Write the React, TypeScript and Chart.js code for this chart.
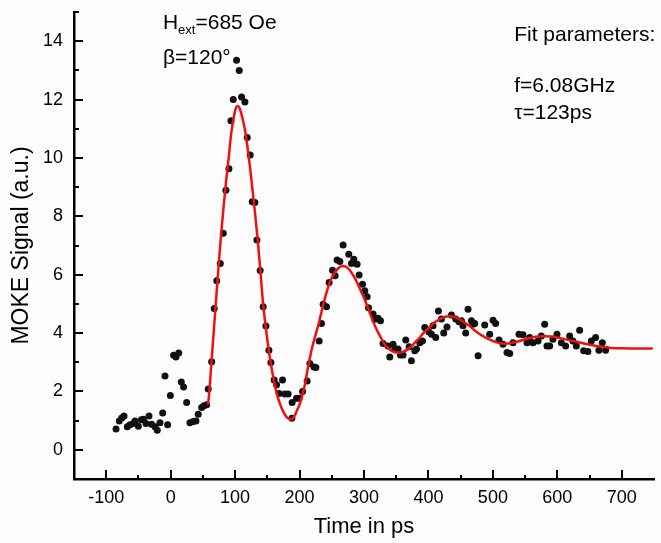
import { useEffect, useRef } from "react";
import { Chart, registerables } from "chart.js";

Chart.register(...registerables);

// Measured MOKE signal (time in ps, signal in a.u.)
const timePs = [
  -84.8, -79.7, -76, -72.4, -67.3, -63.1, -58, -55.3, -50.2, -45.4, -42.5, -38.3, -33.6, -29.5, -24.3, -20.8,
  -16.6, -12.4, -8.8, -4.7, -0.5, 4.5, 8.2, 12.5, 16.5, 20, 24.8, 29.9, 35, 39.2, 42.8, 48.1, 51.6, 55.8, 58.3,
  63.6, 67.6, 71.5, 77, 81.6, 85.7, 90.4, 93.5, 97.1, 102.3, 106.4, 110, 115.2, 118.8, 123.4, 126.5, 130.7,
  133.8, 138.9, 143.6, 147.8, 152.4, 155.5, 160.6, 164.3, 168.4, 173.6, 177.2, 182.3, 188.5, 188, 195.3, 199.4,
  204.7, 211.8, 216, 222.2, 225.3, 230.4, 234.1, 236.6, 241.9, 245.9, 251.2, 255.2, 258.3, 262.5, 267.6, 276.4,
  280.6, 284.2, 289.3, 292.4, 297.7, 301.2, 304.8, 307, 314.1, 316.7, 321.9, 325.6, 329.6, 337.4, 340, 345.1,
  347.8, 352.9, 356.6, 360.6, 364.8, 370, 373.6, 378.8, 381.4, 386.5, 390.7, 394.3, 400.9, 404.7, 407.1, 411.3,
  415.5, 420.2, 423.7, 428.8, 435.7, 442.3, 447.4, 451.2, 453.6, 457.8, 461.4, 466.7, 469.1, 471.8, 477, 487.3,
  495, 500.2, 504.3, 509.5, 515.7, 521.9, 526.1, 531.2, 540.5, 546.7, 552.9, 557.1, 562.2, 570, 575.2, 580.3,
  583.9, 588.1, 593.2, 599.4, 606.2, 612.9, 619.1, 624.2, 629.5, 634.6, 640.8, 647.4, 652.7, 659.4, 664.5,
  669.8, 674.9,
];
const mokeSignal = [
  0.71, 0.99, 1.09, 1.16, 0.79, 0.86, 0.9, 0.99, 0.81, 1.03, 1.05, 0.9, 1.16, 0.88, 0.79, 0.67,
  0.93, 1.26, 2.53, 0.86, 1.86, 3.24, 3.18, 3.32, 2.32, 2.15, 1.62, 0.93, 0.97, 0.99, 1.22, 1.45, 1.51, 1.54, 2.08,
  3.02, 4.84, 5.79, 6.38, 7.42, 8.89, 9.63, 11.27, 12.0, 13.35, 13.0, 12.09, 11.92, 10.7, 10.1, 8.5, 8.47,
  7.19, 6.14, 4.9, 4.24, 3.41, 2.99, 2.39, 2.23, 1.93, 2.39, 1.91, 1.91, 1.62, 1.08, 1.77, 1.77,
  2.0, 2.36, 2.96, 2.84, 2.82, 3.73, 4.33, 4.99, 4.9, 5.73, 6.15, 5.96, 6.5, 6.45, 7.02, 6.7,
  6.38, 6.53, 6.36, 5.99, 5.67, 5.45, 5.24, 4.87, 4.65, 4.47, 4.51, 4.42, 3.64, 3.56, 3.18, 3.62,
  3.45, 3.45, 3.25, 3.25, 3.76, 3.53, 3.05, 3.39, 3.45, 3.67, 3.73, 4.19, 4.04, 3.96, 4.25, 3.85,
  4.76, 4.48, 4.0, 4.21, 4.62, 4.48, 4.39, 4.42, 4.25, 4.0, 4.82, 4.42, 4.3, 4.33, 3.22, 4.28,
  3.96, 4.44, 4.33, 3.76, 3.62, 3.33, 3.3, 3.67, 3.96, 3.94, 3.67, 3.85, 3.67, 3.73, 3.9, 4.3,
  3.56, 3.56, 3.79, 3.96, 3.67, 3.56, 3.9, 3.73, 3.56, 4.1, 3.39, 3.37, 3.73, 3.85, 3.41,
  3.67, 3.41,
];

// Fit curve
const fitTimePs = [
  58, 60, 63, 66, 70, 74, 78, 82, 86, 90, 94, 98, 101, 104, 107, 111, 115, 119, 123, 127, 131, 135, 139, 143,
  147, 151, 155, 160, 165, 170, 175, 180, 185, 188, 192, 196, 200, 204, 208, 212, 216, 220, 225, 230, 236, 242,
  248, 254, 260, 266, 272, 278, 284, 290, 296, 302, 308, 314, 320, 326, 332, 338, 344, 350, 356, 362, 368, 374,
  380, 386, 392, 398, 404, 410, 416, 422, 428, 434, 440, 446, 452, 458, 464, 470, 476, 482, 490, 498, 506, 514,
  522, 530, 540, 550, 560, 570, 580, 590, 600, 610, 620, 630, 640, 650, 660, 670, 680, 700, 748,
];
const fitSignal = [
  1.55, 2.0, 2.9, 3.8, 5.0, 6.2, 7.3, 8.3, 9.2, 10.0, 10.85, 11.4, 11.7, 11.78, 11.7, 11.4, 11.0, 10.4, 9.7, 8.9,
  8.1, 7.2, 6.2, 5.1, 4.3, 3.6, 3.0, 2.4, 1.9, 1.55, 1.3, 1.12, 1.05, 1.04, 1.15, 1.35, 1.55, 1.85, 2.2, 2.7, 3.15,
  3.55, 3.95, 4.35, 4.9, 5.4, 5.8, 6.05, 6.22, 6.3, 6.28, 6.15, 5.95, 5.7, 5.4, 5.1, 4.75, 4.4, 4.1, 3.85, 3.62,
  3.47, 3.38, 3.33, 3.33, 3.37, 3.45, 3.56, 3.7, 3.83, 4.0, 4.12, 4.25, 4.37, 4.45, 4.53, 4.57, 4.58, 4.56, 4.5,
  4.42, 4.33, 4.24, 4.12, 4.02, 3.93, 3.83, 3.75, 3.68, 3.64, 3.64, 3.67, 3.72, 3.79, 3.84, 3.88, 3.89, 3.88,
  3.85, 3.8, 3.75, 3.7, 3.65, 3.6, 3.56, 3.53, 3.5, 3.48, 3.47,
];

// Axis ticks
const xTickLabels = [-100, 0, 100, 200, 300, 400, 500, 600, 700];
const xMinorTicks = [-50, 50, 150, 250, 350, 450, 550, 650];
const yTickLabels = [0, 2, 4, 6, 8, 10, 12, 14];
const yMinorTicks = [1, 3, 5, 7, 9, 11, 13, 15];

const FONT = '"Liberation Sans", Arial, Helvetica, sans-serif';

const decorPlugin = {
  id: "decor",
  afterDraw(chart: any) {
    const { ctx, chartArea } = chart;
    const x = chart.scales.x;
    const y = chart.scales.y;
    ctx.save();
    ctx.strokeStyle = "#000";
    ctx.lineWidth = 2;
    const tick = (x1: number, y1: number, x2: number, y2: number) => {
      ctx.beginPath();
      ctx.moveTo(x1, y1);
      ctx.lineTo(x2, y2);
      ctx.stroke();
    };
    const by = chartArea.bottom;
    const bx = chartArea.left;
    xTickLabels.forEach((v) => {
      const p = Math.round(x.getPixelForValue(v));
      tick(p, by, p, by - 9);
    });
    xMinorTicks.forEach((v) => {
      const p = Math.round(x.getPixelForValue(v));
      tick(p, by, p, by - 4);
    });
    yTickLabels.forEach((v) => {
      const p = Math.round(y.getPixelForValue(v));
      tick(bx, p, bx + 9, p);
    });
    yMinorTicks.forEach((v) => {
      const p = Math.round(y.getPixelForValue(v));
      tick(bx, p, bx + 5, p);
    });

    // annotations
    ctx.fillStyle = "#000";
    ctx.textBaseline = "alphabetic";
    ctx.textAlign = "left";
    const big = `21px ${FONT}`;
    const small = `13px ${FONT}`;
    let ax = x.getPixelForValue(-12);
    const ay = y.getPixelForValue(14.42);
    ctx.font = big;
    ctx.fillText("H", ax, ay);
    ax += ctx.measureText("H").width;
    ctx.font = small;
    ctx.fillText("ext", ax, ay + 5);
    ax += ctx.measureText("ext").width;
    ctx.font = big;
    ctx.fillText("=685 Oe", ax, ay);
    ctx.fillText("\u03B2=120\u00B0", x.getPixelForValue(-12), y.getPixelForValue(13.22));

    const fx = x.getPixelForValue(533);
    ctx.fillText("Fit parameters:", fx, y.getPixelForValue(14.0));
    ctx.fillText("f=6.08GHz", fx, y.getPixelForValue(12.25));
    ctx.fillText("\u03C4=123ps", fx, y.getPixelForValue(11.35));
    ctx.restore();
  },
};

const bgPlugin = {
  id: "bg",
  beforeDraw(chart: any) {
    const { ctx, width, height } = chart;
    ctx.save();
    ctx.fillStyle = "#fcfcfc";
    ctx.fillRect(0, 0, width, height);
    ctx.restore();
  },
};

export default function App() {
  const ref = useRef<HTMLCanvasElement | null>(null);

  useEffect(() => {
    if (!ref.current) return;
    const chart = new Chart(ref.current, {
      type: "scatter",
      data: {
        datasets: [
          {
            type: "line",
            label: "Fit",
            data: fitTimePs.map((t, i) => ({ x: t, y: fitSignal[i] })),
            borderColor: "rgb(236,18,18)",
            borderWidth: 2.5,
            pointRadius: 0,
            cubicInterpolationMode: "monotone",
            fill: false,
            order: 0,
          } as any,
          {
            type: "scatter",
            label: "MOKE",
            data: timePs.map((t, i) => ({ x: t, y: mokeSignal[i] })),
            backgroundColor: "#111",
            borderWidth: 0,
            pointRadius: 3.5,
            order: 1,
          },
        ],
      },
      options: {
        animation: false,
        responsive: false,
        devicePixelRatio: 1,
        layout: { padding: { top: 12, right: 7, left: 0, bottom: 0 } },
        plugins: { legend: { display: false }, tooltip: { enabled: false } },
        scales: {
          x: {
            type: "linear",
            min: -150,
            max: 750,
            afterBuildTicks: (s: any) => {
              s.ticks = xTickLabels.map((v) => ({ value: v }));
            },
            afterFit: (s: any) => {
              s.height = 64;
              s.paddingLeft = 0;
              s.paddingRight = 0;
            },
            grid: { display: false, drawTicks: false },
            border: { display: true, color: "#000", width: 2.5 },
            ticks: { color: "#000", font: { family: FONT, size: 18 }, padding: 8, maxRotation: 0 },
            title: {
              display: true,
              text: "Time in ps",
              color: "#000",
              font: { family: FONT, size: 22 },
              padding: { top: 0, bottom: 3 },
            },
          },
          y: {
            type: "linear",
            min: -1,
            max: 15,
            afterBuildTicks: (s: any) => {
              s.ticks = yTickLabels.map((v) => ({ value: v }));
            },
            afterFit: (s: any) => {
              s.width = 74;
              s.paddingTop = 0;
              s.paddingBottom = 0;
            },
            grid: { display: false, drawTicks: false },
            border: { display: true, color: "#000", width: 2.5 },
            ticks: { color: "#000", font: { family: FONT, size: 18 }, padding: 11 },
            title: {
              display: true,
              text: "MOKE Signal (a.u.)",
              color: "#000",
              font: { family: FONT, size: 23 },
              padding: { top: 8, bottom: 0 },
            },
          },
        },
      },
      plugins: [bgPlugin, decorPlugin],
    });
    return () => chart.destroy();
  }, []);

  return (
    <div style={{ position: "fixed", left: 0, top: 0, width: 661, height: 543, background: "#fcfcfc" }}>
      <canvas ref={ref} width={661} height={543} style={{ display: "block" }} />
    </div>
  );
}
